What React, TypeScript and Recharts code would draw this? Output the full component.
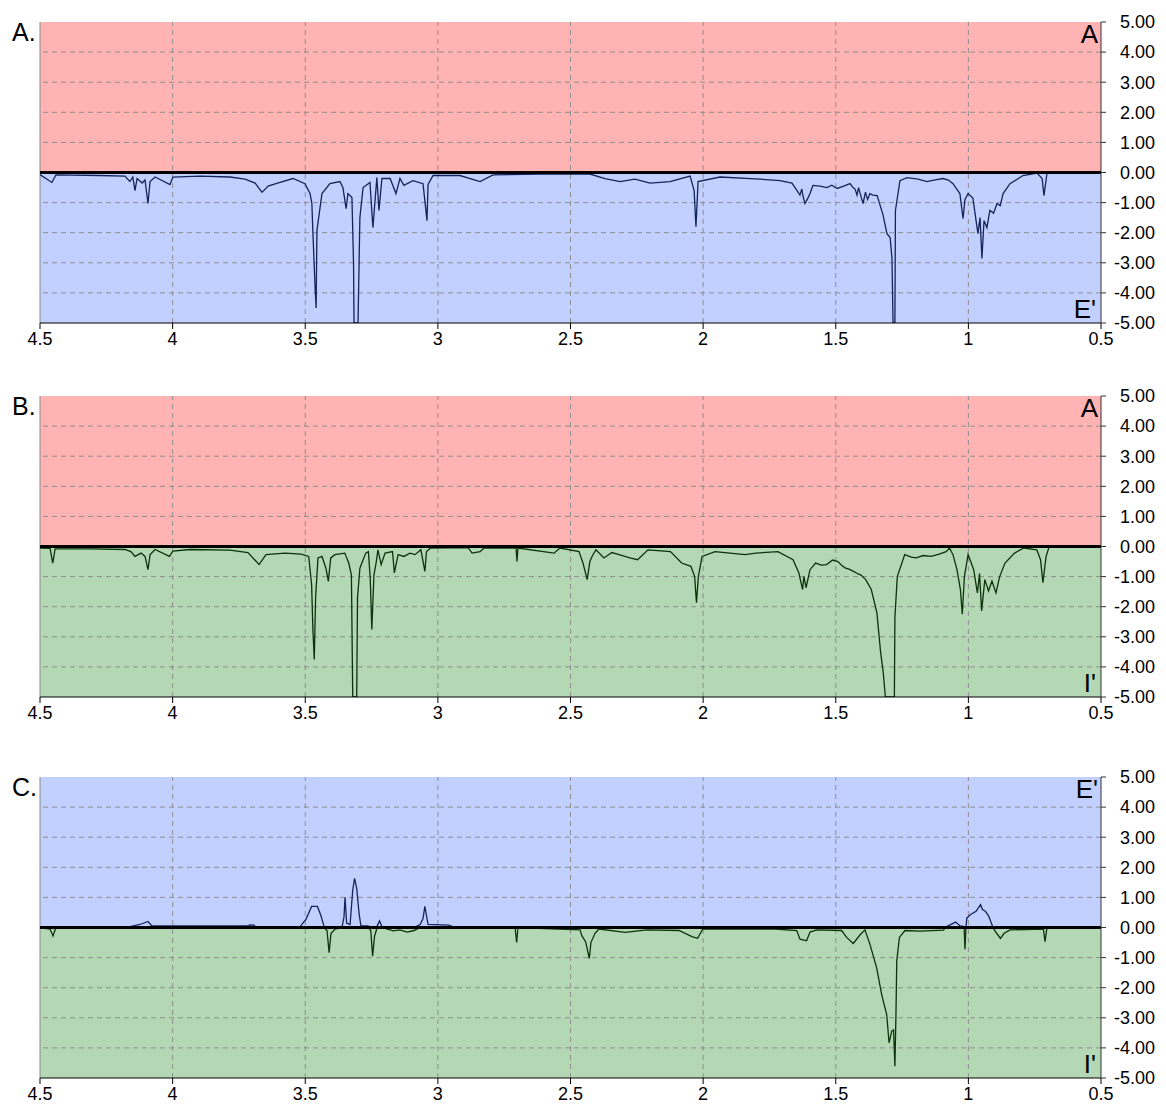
import { LineChart, Line, XAxis, YAxis, ReferenceArea, ReferenceLine } from "recharts";

// wavenumber-like axis runs from 4.5 down to 0.5
const xTicks = [4.5, 4, 3.5, 3, 2.5, 2, 1.5, 1, 0.5];
const yTicks = [-5, -4, -3, -2, -1, 0, 1, 2, 3, 4, 5];

// [x, value] pairs
const spectrumA: [number, number][] = [
  [4.5, -0.07], [4.455, -0.33], [4.44, -0.08], [4.274, -0.1], [4.18, -0.12], [4.161, -0.3],
  [4.15, -0.15], [4.142, -0.6], [4.134, -0.2], [4.115, -0.35], [4.104, -0.25], [4.093, -1.03],
  [4.085, -0.3], [4.066, -0.15], [4.01, -0.4], [3.999, -0.15], [3.897, -0.12], [3.784, -0.15],
  [3.727, -0.22], [3.689, -0.35], [3.663, -0.66], [3.64, -0.45], [3.595, -0.33], [3.546, -0.2],
  [3.501, -0.37], [3.482, -0.7], [3.475, -1.03], [3.471, -2.03], [3.463, -3.8], [3.459, -4.5],
  [3.456, -1.93], [3.437, -0.7], [3.407, -0.37], [3.369, -0.3], [3.358, -0.5], [3.346, -1.2],
  [3.339, -0.7], [3.324, -0.83], [3.318, -3.0], [3.316, -5], [3.301, -5], [3.294, -1.5],
  [3.282, -0.5], [3.256, -0.33], [3.245, -1.83], [3.23, -0.17], [3.222, -1.26], [3.211, -0.2],
  [3.18, -0.2], [3.158, -0.7], [3.143, -0.2], [3.128, -0.43], [3.094, -0.27], [3.056, -0.37],
  [3.041, -1.6], [3.037, -0.4], [3.018, -0.1], [2.917, -0.1], [2.841, -0.3], [2.792, -0.08],
  [2.615, -0.05], [2.427, -0.05], [2.37, -0.2], [2.313, -0.3], [2.257, -0.22], [2.2, -0.35],
  [2.125, -0.3], [2.049, -0.12], [2.034, -0.6], [2.027, -1.8], [2.019, -0.3], [1.936, -0.15],
  [1.786, -0.22], [1.71, -0.27], [1.665, -0.35], [1.646, -0.6], [1.635, -0.75], [1.628, -0.55],
  [1.623, -0.8], [1.616, -1.03], [1.605, -0.85], [1.597, -0.7], [1.586, -0.43], [1.56, -0.45],
  [1.533, -0.5], [1.515, -0.42], [1.495, -0.53], [1.47, -0.45], [1.446, -0.37], [1.435, -0.5],
  [1.427, -0.55], [1.42, -0.75], [1.414, -0.5], [1.409, -0.66], [1.403, -0.85], [1.397, -1.03],
  [1.388, -0.65], [1.38, -0.9], [1.371, -0.7], [1.36, -0.75], [1.344, -0.77], [1.322, -1.4],
  [1.307, -2.03], [1.295, -2.16], [1.288, -2.86], [1.284, -5], [1.277, -5], [1.275, -1.26],
  [1.258, -0.27], [1.231, -0.17], [1.19, -0.22], [1.156, -0.3], [1.13, -0.25], [1.096, -0.2],
  [1.075, -0.25], [1.058, -0.37], [1.032, -0.7], [1.02, -1.53], [1.013, -0.9], [1.001, -0.7],
  [0.983, -0.85], [0.964, -2.03], [0.956, -1.5], [0.949, -2.86], [0.941, -1.6], [0.93, -1.83],
  [0.919, -1.26], [0.905, -1.35], [0.892, -1.03], [0.88, -1.1], [0.869, -0.7], [0.843, -0.37],
  [0.794, -0.1], [0.741, -0.02], [0.722, -0.2], [0.715, -0.77], [0.704, -0.05],
];

const spectrumB: [number, number][] = [
  [4.5, -0.05], [4.462, -0.06], [4.452, -0.55], [4.443, -0.08], [4.311, -0.08], [4.18, -0.1],
  [4.157, -0.17], [4.142, -0.33], [4.119, -0.22], [4.104, -0.33], [4.093, -0.77], [4.085, -0.27],
  [4.066, -0.1], [4.012, -0.33], [3.999, -0.15], [3.934, -0.1], [3.784, -0.12], [3.716, -0.2],
  [3.674, -0.6], [3.648, -0.27], [3.576, -0.22], [3.516, -0.25], [3.487, -0.33], [3.476, -1.27],
  [3.471, -2.8], [3.466, -3.75], [3.461, -1.7], [3.452, -0.38], [3.437, -0.33], [3.422, -0.72],
  [3.413, -1.16], [3.404, -0.38], [3.388, -0.27], [3.351, -0.22], [3.336, -0.55], [3.326, -0.94],
  [3.321, -5], [3.306, -5], [3.303, -1.7], [3.294, -0.72], [3.272, -0.22], [3.262, -0.17],
  [3.255, -1.05], [3.249, -2.76], [3.241, -0.94], [3.233, -0.55], [3.226, -0.11], [3.214, -0.6],
  [3.199, -0.22], [3.171, -0.17], [3.164, -0.88], [3.15, -0.27], [3.128, -0.33], [3.105, -0.22],
  [3.086, -0.27], [3.064, -0.11], [3.049, -0.83], [3.043, -0.17], [3.027, -0.05], [2.886, -0.04],
  [2.871, -0.22], [2.841, -0.17], [2.826, -0.05], [2.705, -0.05], [2.702, -0.5], [2.698, -0.05],
  [2.562, -0.22], [2.54, -0.05], [2.468, -0.17], [2.453, -0.55], [2.437, -1.1], [2.427, -0.5],
  [2.417, -0.3], [2.404, -0.11], [2.374, -0.38], [2.344, -0.2], [2.317, -0.27], [2.276, -0.38],
  [2.247, -0.44], [2.208, -0.11], [2.123, -0.17], [2.081, -0.55], [2.046, -0.66], [2.032, -1.0],
  [2.025, -1.87], [2.018, -1.0], [2.004, -0.33], [1.955, -0.17], [1.899, -0.22], [1.842, -0.27],
  [1.801, -0.22], [1.718, -0.17], [1.661, -0.44], [1.639, -0.88], [1.625, -1.43], [1.62, -0.99],
  [1.612, -1.37], [1.597, -0.77], [1.576, -0.55], [1.555, -0.62], [1.534, -0.6], [1.512, -0.45],
  [1.492, -0.5], [1.478, -0.62], [1.465, -0.71], [1.45, -0.75], [1.435, -0.82], [1.422, -0.88],
  [1.405, -0.95], [1.387, -1.1], [1.366, -1.43], [1.345, -2.2], [1.331, -3.5], [1.321, -4.18],
  [1.313, -5], [1.279, -5], [1.277, -2.36], [1.268, -1.0], [1.24, -0.27], [1.215, -0.35],
  [1.197, -0.38], [1.17, -0.3], [1.141, -0.33], [1.11, -0.25], [1.084, -0.17], [1.071, -0.05],
  [1.058, -0.27], [1.043, -0.77], [1.03, -1.43], [1.023, -2.25], [1.015, -1.0], [1.001, -0.27],
  [0.98, -0.77], [0.966, -1.54], [0.958, -0.9], [0.95, -2.14], [0.938, -1.1], [0.924, -1.48],
  [0.911, -1.15], [0.896, -1.54], [0.882, -1.0], [0.862, -0.55], [0.826, -0.22], [0.791, -0.05],
  [0.742, -0.11], [0.728, -0.44], [0.719, -1.2], [0.707, -0.33], [0.696, -0.02],
];

// difference trace: above zero drawn in the E' colour, below zero in the I' colour
const spectrumC: [number, number][] = [
  [4.5, 0], [4.462, -0.05], [4.451, -0.28], [4.44, 0], [4.161, 0.03], [4.123, 0.1],
  [4.093, 0.2], [4.078, 0.05], [3.72, 0.05], [3.708, 0.09], [3.693, 0.08], [3.686, 0],
  [3.52, 0.02], [3.497, 0.28], [3.476, 0.7], [3.454, 0.7], [3.441, 0.4], [3.429, 0.03],
  [3.418, -0.1], [3.41, -0.84], [3.403, -0.2], [3.388, -0.05], [3.361, 0.03], [3.354, 0.34],
  [3.35, 1.0], [3.344, 0.15], [3.331, 0.1], [3.321, 1.24], [3.314, 1.63], [3.306, 1.3],
  [3.297, 0.45], [3.29, 0.05], [3.263, 0.05], [3.253, -0.1], [3.246, -0.95], [3.239, -0.3],
  [3.229, 0.05], [3.22, 0.22], [3.211, 0.03], [3.169, -0.11], [3.143, -0.08], [3.116, -0.15],
  [3.09, -0.1], [3.067, 0.1], [3.056, 0.3], [3.049, 0.7], [3.037, 0.1], [2.959, 0.08],
  [2.935, 0], [2.709, 0], [2.703, -0.5], [2.698, 0], [2.543, -0.05], [2.464, -0.08],
  [2.457, -0.28], [2.443, -0.47], [2.429, -1.03], [2.423, -0.5], [2.408, -0.2], [2.393, -0.05],
  [2.294, -0.16], [2.212, -0.08], [2.091, -0.1], [2.042, -0.3], [2.021, -0.36], [2.001, -0.05],
  [1.823, -0.05], [1.729, -0.05], [1.647, -0.1], [1.635, -0.39], [1.62, -0.42], [1.61, -0.44],
  [1.597, -0.15], [1.572, -0.08], [1.478, -0.1], [1.459, -0.33], [1.434, -0.53], [1.409, -0.25],
  [1.39, -0.08], [1.371, -0.56], [1.346, -1.33], [1.327, -2.22], [1.308, -2.89], [1.299, -3.83],
  [1.289, -3.44], [1.282, -3.4], [1.277, -4.61], [1.273, -2.89], [1.27, -1.11], [1.26, -0.33],
  [1.239, -0.1], [1.182, -0.12], [1.095, -0.09], [1.084, 0.02], [1.048, 0.18], [1.031, 0.05],
  [1.016, 0.03], [1.013, -0.72], [1.009, 0], [1.006, 0.31], [0.992, 0.43], [0.971, 0.54],
  [0.954, 0.76], [0.947, 0.6], [0.936, 0.54], [0.923, 0.37], [0.908, 0.02], [0.893, -0.2],
  [0.879, -0.36], [0.866, -0.2], [0.843, -0.08], [0.717, -0.05], [0.711, -0.47], [0.704, -0.03],
  [0.655, 0],
];

const PINK = "#ffb3b3";
const BLUE = "#c1d0ff";
const GREEN = "#b3d8b3";
const NAVY = "#14245a";
const DARK_GREEN = "#0c330c";
const FONT = "'Liberation Sans', Arial, sans-serif";

type Series = { key: string; color: string };

function SpectrumPanel(props: {
  tag: string;
  top: number;
  rows: Array<Record<string, number>>;
  upperFill: string;
  lowerFill: string;
  upperName: string;
  lowerName: string;
  series: Series[];
}) {
  const gridX = xTicks.filter((t) => t !== 4.5 && t !== 0.5);
  const gridY = yTicks.filter((t) => t !== -5 && t !== 0 && t !== 5);
  return (
    <div style={{ position: "absolute", left: 0, top: props.top, width: 1166, height: 360 }}>
      <div
        style={{
          position: "absolute",
          left: 12,
          top: 20,
          fontFamily: FONT,
          fontSize: 25,
          lineHeight: "25px",
          color: "#000",
        }}
      >
        {props.tag}
      </div>
      <LineChart
        width={1166}
        height={360}
        data={props.rows}
        margin={{ top: 22, right: 5, left: 40, bottom: 0 }}
        style={{ fontFamily: FONT }}
      >
        <XAxis
          dataKey="x"
          type="number"
          domain={[0.5, 4.5]}
          reversed
          allowDataOverflow
          ticks={xTicks}
          interval={0}
          height={37}
          tickSize={6}
          tickMargin={3}
          stroke="#000"
          tick={{ fontSize: 18, fill: "#000" }}
        />
        <YAxis
          orientation="right"
          type="number"
          domain={[-5, 5]}
          allowDataOverflow
          ticks={yTicks}
          interval={0}
          width={60}
          tickSize={5}
          tickMargin={49}
          stroke="#333"
          tickFormatter={(v: number) => v.toFixed(2)}
          tick={{ fontSize: 18, fill: "#000", textAnchor: "end" }}
        />
        <ReferenceArea
          y1={0}
          y2={5}
          fill={props.upperFill}
          fillOpacity={1}
          stroke="none"
          label={{ value: props.upperName, position: "insideTopRight", offset: 3, fontSize: 26, fill: "#000" }}
        />
        <ReferenceArea
          y1={-5}
          y2={0}
          fill={props.lowerFill}
          fillOpacity={1}
          stroke="none"
          label={{ value: props.lowerName, position: "insideBottomRight", offset: 5, fontSize: 26, fill: "#000" }}
        />
        {gridY.map((v) => (
          <ReferenceLine key={`gy${v}`} y={v} stroke="#8f8f8f" strokeDasharray="5 4" strokeWidth={1} />
        ))}
        {gridX.map((v) => (
          <ReferenceLine key={`gx${v}`} x={v} stroke="#8f8f8f" strokeDasharray="5 4" strokeWidth={1} />
        ))}
        <ReferenceLine x={4.5} stroke="#8a8a8a" strokeWidth={1} />
        {props.series.map((s) => (
          <Line
            key={s.key}
            dataKey={s.key}
            type="linear"
            stroke={s.color}
            strokeWidth={1.3}
            dot={false}
            activeDot={false}
            isAnimationActive={false}
          />
        ))}
        <ReferenceLine y={0} stroke="#000" strokeWidth={3} />
      </LineChart>
    </div>
  );
}

export default function App() {
  const rowsA = spectrumA.map(([x, y]) => ({ x, y }));
  const rowsB = spectrumB.map(([x, y]) => ({ x, y }));
  const rowsC = spectrumC.map(([x, y]) => ({ x, pos: Math.max(y, 0), neg: Math.min(y, 0) }));
  return (
    <div style={{ position: "absolute", left: 0, top: 0, width: 1166, height: 1117, background: "#fff" }}>
      <SpectrumPanel
        tag="A."
        top={0}
        rows={rowsA}
        upperFill={PINK}
        lowerFill={BLUE}
        upperName="A"
        lowerName="E'"
        series={[{ key: "y", color: NAVY }]}
      />
      <SpectrumPanel
        tag="B."
        top={374}
        rows={rowsB}
        upperFill={PINK}
        lowerFill={GREEN}
        upperName="A"
        lowerName="I'"
        series={[{ key: "y", color: DARK_GREEN }]}
      />
      <SpectrumPanel
        tag="C."
        top={755}
        rows={rowsC}
        upperFill={BLUE}
        lowerFill={GREEN}
        upperName="E'"
        lowerName="I'"
        series={[
          { key: "neg", color: DARK_GREEN },
          { key: "pos", color: NAVY },
        ]}
      />
    </div>
  );
}
